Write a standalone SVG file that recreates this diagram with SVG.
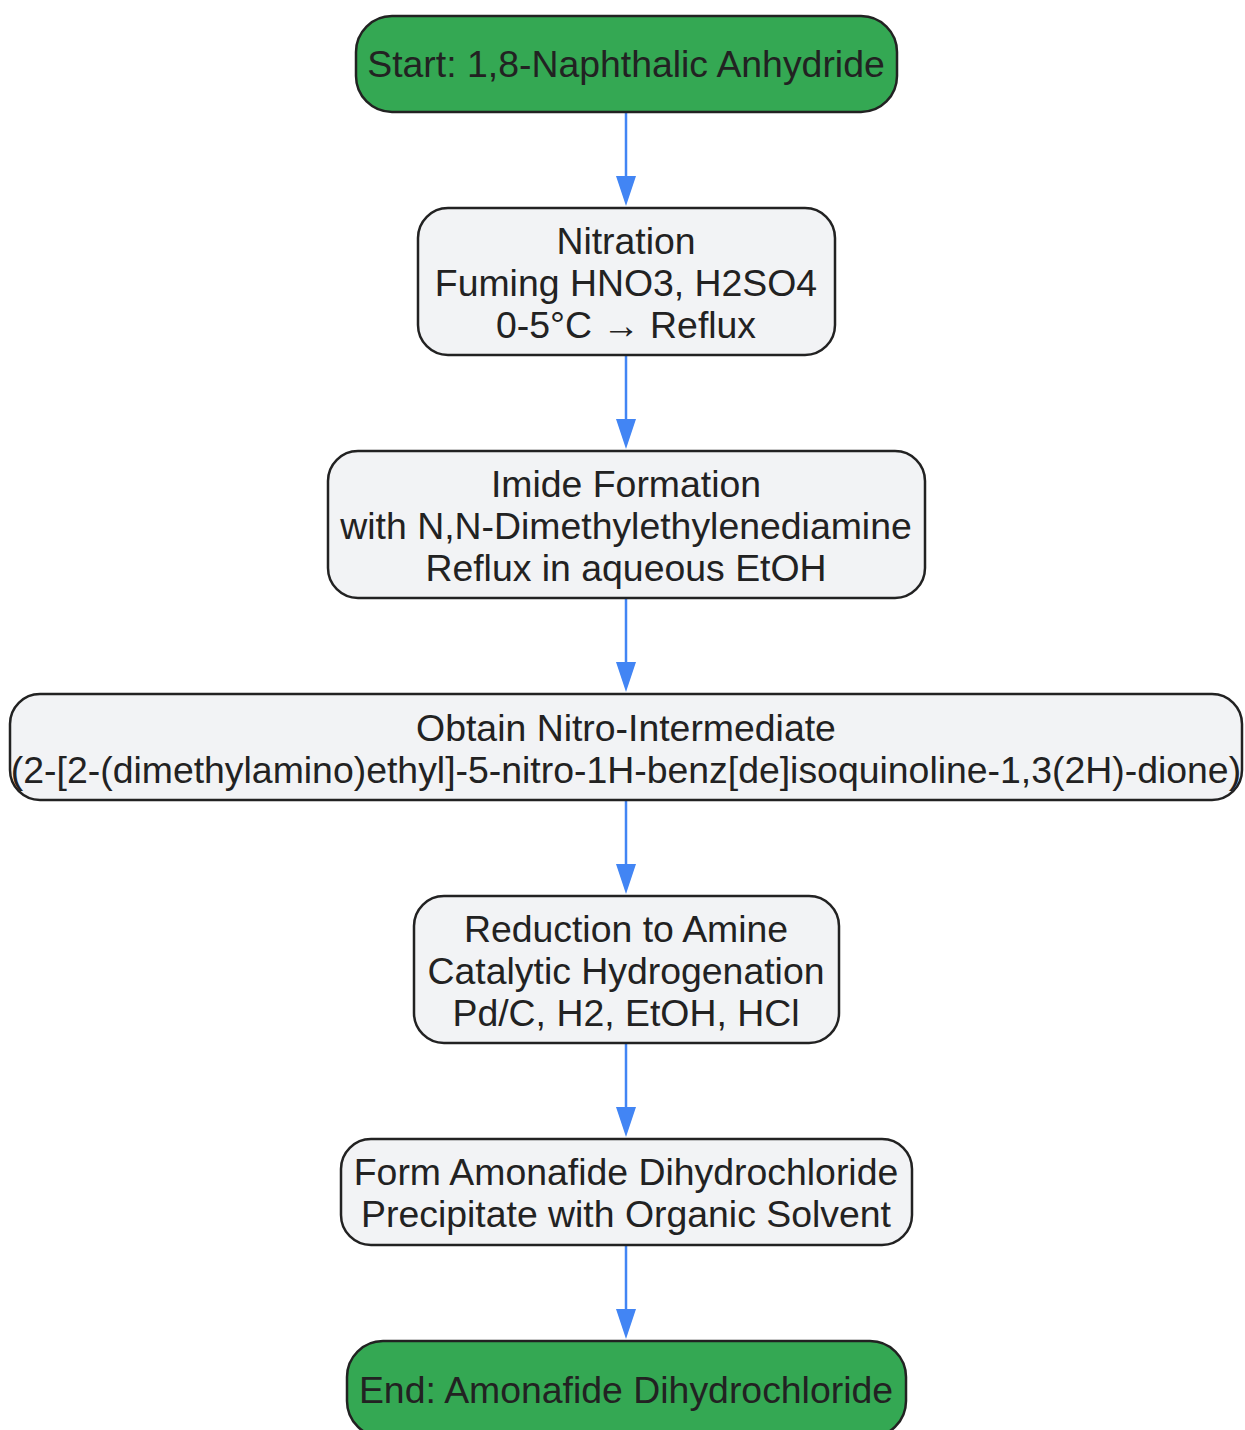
<svg xmlns="http://www.w3.org/2000/svg" width="1245" height="1430" viewBox="0 0 1245 1430">
<style>
.term{fill:#34a853;stroke:#222;stroke-width:2.5}
.step{fill:#f2f3f5;stroke:#222;stroke-width:2.5}
text{font-family:"Liberation Sans",Arial,sans-serif;font-size:37.4px;fill:#222;text-anchor:middle}
.edge{stroke:#4285f4;stroke-width:2.5;fill:none}
.head{fill:#4285f4}
</style>
<rect width="1245" height="1430" fill="#ffffff"/>
<g id="connectors">
<line class="edge" x1="626" y1="112" x2="626" y2="176"/>
<path class="head" d="M616,176 L636,176 L626,206 Z"/>
<line class="edge" x1="626" y1="355" x2="626" y2="419"/>
<path class="head" d="M616,419 L636,419 L626,449 Z"/>
<line class="edge" x1="626" y1="598" x2="626" y2="662"/>
<path class="head" d="M616,662 L636,662 L626,692 Z"/>
<line class="edge" x1="626" y1="800" x2="626" y2="864"/>
<path class="head" d="M616,864 L636,864 L626,894 Z"/>
<line class="edge" x1="626" y1="1043" x2="626" y2="1107"/>
<path class="head" d="M616,1107 L636,1107 L626,1137 Z"/>
<line class="edge" x1="626" y1="1245" x2="626" y2="1309"/>
<path class="head" d="M616,1309 L636,1309 L626,1339 Z"/>
</g>
<g id="start">
<rect class="term" x="356" y="16" width="541" height="96" rx="36"/>
<text x="626" y="77">Start: 1,8-Naphthalic Anhydride</text>
</g>
<g id="nitration">
<rect class="step" x="418" y="208" width="417" height="147" rx="30"/>
<text x="626" y="254">Nitration</text>
<text x="626" y="296">Fuming HNO3, H2SO4</text>
<text x="626" y="338">0-5°C → Reflux</text>
</g>
<g id="imide">
<rect class="step" x="328" y="451" width="597" height="147" rx="30"/>
<text x="626" y="497">Imide Formation</text>
<text x="626" y="539">with N,N-Dimethylethylenediamine</text>
<text x="626" y="581">Reflux in aqueous EtOH</text>
</g>
<g id="nitro">
<rect class="step" x="10" y="694" width="1232" height="106" rx="30"/>
<text x="626" y="741">Obtain Nitro-Intermediate</text>
<text x="626" y="783">(2-[2-(dimethylamino)ethyl]-5-nitro-1H-benz[de]isoquinoline-1,3(2H)-dione)</text>
</g>
<g id="reduction">
<rect class="step" x="414" y="896" width="425" height="147" rx="30"/>
<text x="626" y="942">Reduction to Amine</text>
<text x="626" y="984">Catalytic Hydrogenation</text>
<text x="626" y="1026">Pd/C, H2, EtOH, HCl</text>
</g>
<g id="form">
<rect class="step" x="341" y="1139" width="571" height="106" rx="30"/>
<text x="626" y="1185">Form Amonafide Dihydrochloride</text>
<text x="626" y="1227">Precipitate with Organic Solvent</text>
</g>
<g id="end">
<rect class="term" x="347" y="1341" width="559" height="96" rx="36"/>
<text x="626" y="1403">End: Amonafide Dihydrochloride</text>
</g>
</svg>
